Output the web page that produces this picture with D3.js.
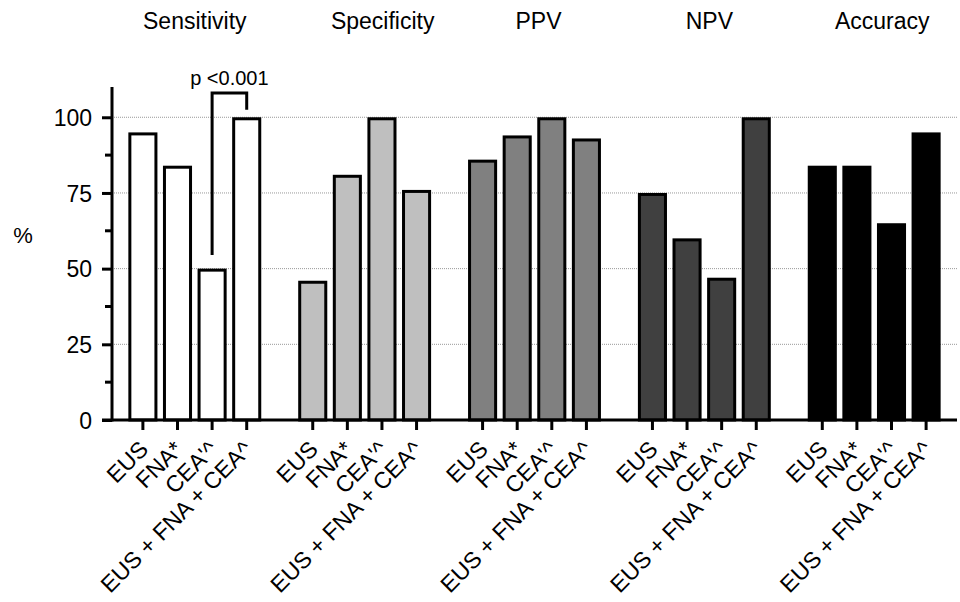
<!DOCTYPE html>
<html>
<head>
<meta charset="utf-8">
<script src="https://cdn.jsdelivr.net/npm/d3@7"></script>
<style>
  body { margin: 0; background: #fff; }
  text { font-family: "Liberation Sans", Arial, sans-serif; fill: #000; }
</style>
</head>
<body>
<svg width="960" height="602"></svg>
<script>
// data (%)
const metrics = ["Sensitivity", "Specificity", "PPV", "NPV", "Accuracy"];
const methods = ["EUS", "FNA*", "CEA'^", "EUS + FNA + CEA^"];
const sensitivity = [95, 84, 50, 100];
const specificity = [46, 81, 100, 76];
const ppv = [86, 94, 100, 93];
const npv = [75, 60, 47, 100];
const accuracy = [84, 84, 65, 95];
const fills = ["#ffffff", "#bfbfbf", "#808080", "#404040", "#000000"];
const yTicks = [0, 25, 50, 75, 100];
const yMinor = [12.5, 37.5, 62.5, 87.5];
// significance bracket: CEA vs combined, sensitivity
const pLabel = "p <0.001";
const bracket = { from: 2, to: 3, leftEnd: 54.5, top: 108, rightEnd: 102.5 };

const series = [sensitivity, specificity, ppv, npv, accuracy];
const rows = [];
metrics.forEach((m, i) => {
    methods.forEach((k, j) => rows.push({ metric: m, method: k, value: series[i][j], g: i }));
});

const svg = d3.select("svg");

const x0 = d3.scaleBand().domain(metrics).range([112, 957])
    .paddingInner(0.185).paddingOuter(0.08);
const x1 = d3.scaleBand().domain(methods).range([0, x0.bandwidth()])
    .paddingInner(0.16).paddingOuter(0.08);
const y = d3.scaleLinear().domain([0, 110]).range([420, 87]);

const left = x0.range()[0], right = x0.range()[1];

// gridlines
svg.append("g")
    .selectAll("line")
    .data(yTicks.filter(d => d > 0))
    .join("line")
    .attr("x1", left).attr("x2", right)
    .attr("y1", d => y(d)).attr("y2", d => y(d))
    .attr("stroke", "#999")
    .attr("stroke-width", 1)
    .attr("stroke-dasharray", "1,1");

// bars (stroke drawn inside the band like the original)
const sw = 3;
svg.append("g")
    .selectAll("rect")
    .data(rows)
    .join("rect")
    .attr("x", d => x0(d.metric) + x1(d.method) + sw / 2)
    .attr("width", x1.bandwidth() - sw)
    .attr("y", d => y(d.value) + sw / 2)
    .attr("height", d => y(0) - y(d.value) - sw / 2)
    .attr("fill", d => fills[d.g])
    .attr("stroke", "#000")
    .attr("stroke-width", sw);

// y axis
const yAxis = svg.append("g").attr("transform", `translate(${left},0)`)
    .call(d3.axisLeft(y).tickValues(yTicks).tickSize(10).tickPadding(10));
yAxis.select(".domain").remove();
yAxis.selectAll(".tick line").attr("stroke-width", 3);
yAxis.selectAll(".tick text").attr("font-size", 23).attr("dy", "0.36em");
svg.append("line")
    .attr("x1", left).attr("x2", left)
    .attr("y1", y(110)).attr("y2", y(0) + 1.5)
    .attr("stroke", "#000").attr("stroke-width", 3);
svg.append("g")
    .selectAll("line")
    .data(yMinor)
    .join("line")
    .attr("x1", left - 7).attr("x2", left)
    .attr("y1", d => y(d)).attr("y2", d => y(d))
    .attr("stroke", "#000").attr("stroke-width", 3);

// x axis
svg.append("line")
    .attr("x1", left - 10).attr("x2", right)
    .attr("y1", y(0)).attr("y2", y(0))
    .attr("stroke", "#000").attr("stroke-width", 3);

const xg = svg.append("g");
metrics.forEach(m => {
    const gg = xg.append("g").attr("transform", `translate(${x0(m)},${y(0)})`);
    gg.call(d3.axisBottom(x1).tickSize(10));
    gg.select(".domain").remove();
    gg.selectAll(".tick line").attr("stroke-width", 3);
    gg.selectAll(".tick text")
        .attr("font-size", 23)
        .attr("text-anchor", "end")
        .attr("x", 0).attr("y", 0)
        .attr("dy", "0.35em")
        .attr("transform", "translate(1,25) rotate(-45)");
});

// group titles
const titleShift = [0, 18, 4, 5, 8];
svg.append("g")
    .selectAll("text")
    .data(metrics)
    .join("text")
    .attr("x", (d, i) => x0(d) + x0.bandwidth() / 2 + titleShift[i])
    .attr("y", 29)
    .attr("text-anchor", "middle")
    .attr("font-size", 23)
    .text(d => d);

// y label
svg.append("text")
    .attr("x", 23).attr("y", 243)
    .attr("text-anchor", "middle")
    .attr("font-size", 22)
    .text("%");

// significance bracket
const bx1 = x0(metrics[0]) + x1(methods[bracket.from]) + x1.bandwidth() / 2;
const bx2 = x0(metrics[0]) + x1(methods[bracket.to]) + x1.bandwidth() / 2;
svg.append("path")
    .attr("d", `M${bx1},${y(bracket.leftEnd)}V${y(bracket.top)}H${bx2}V${y(bracket.rightEnd)}`)
    .attr("fill", "none")
    .attr("stroke", "#000")
    .attr("stroke-width", 3);
svg.append("text")
    .attr("x", (bx1 + bx2) / 2).attr("y", 85)
    .attr("text-anchor", "middle")
    .attr("font-size", 20)
    .text(pLabel);
</script>
</body>
</html>
